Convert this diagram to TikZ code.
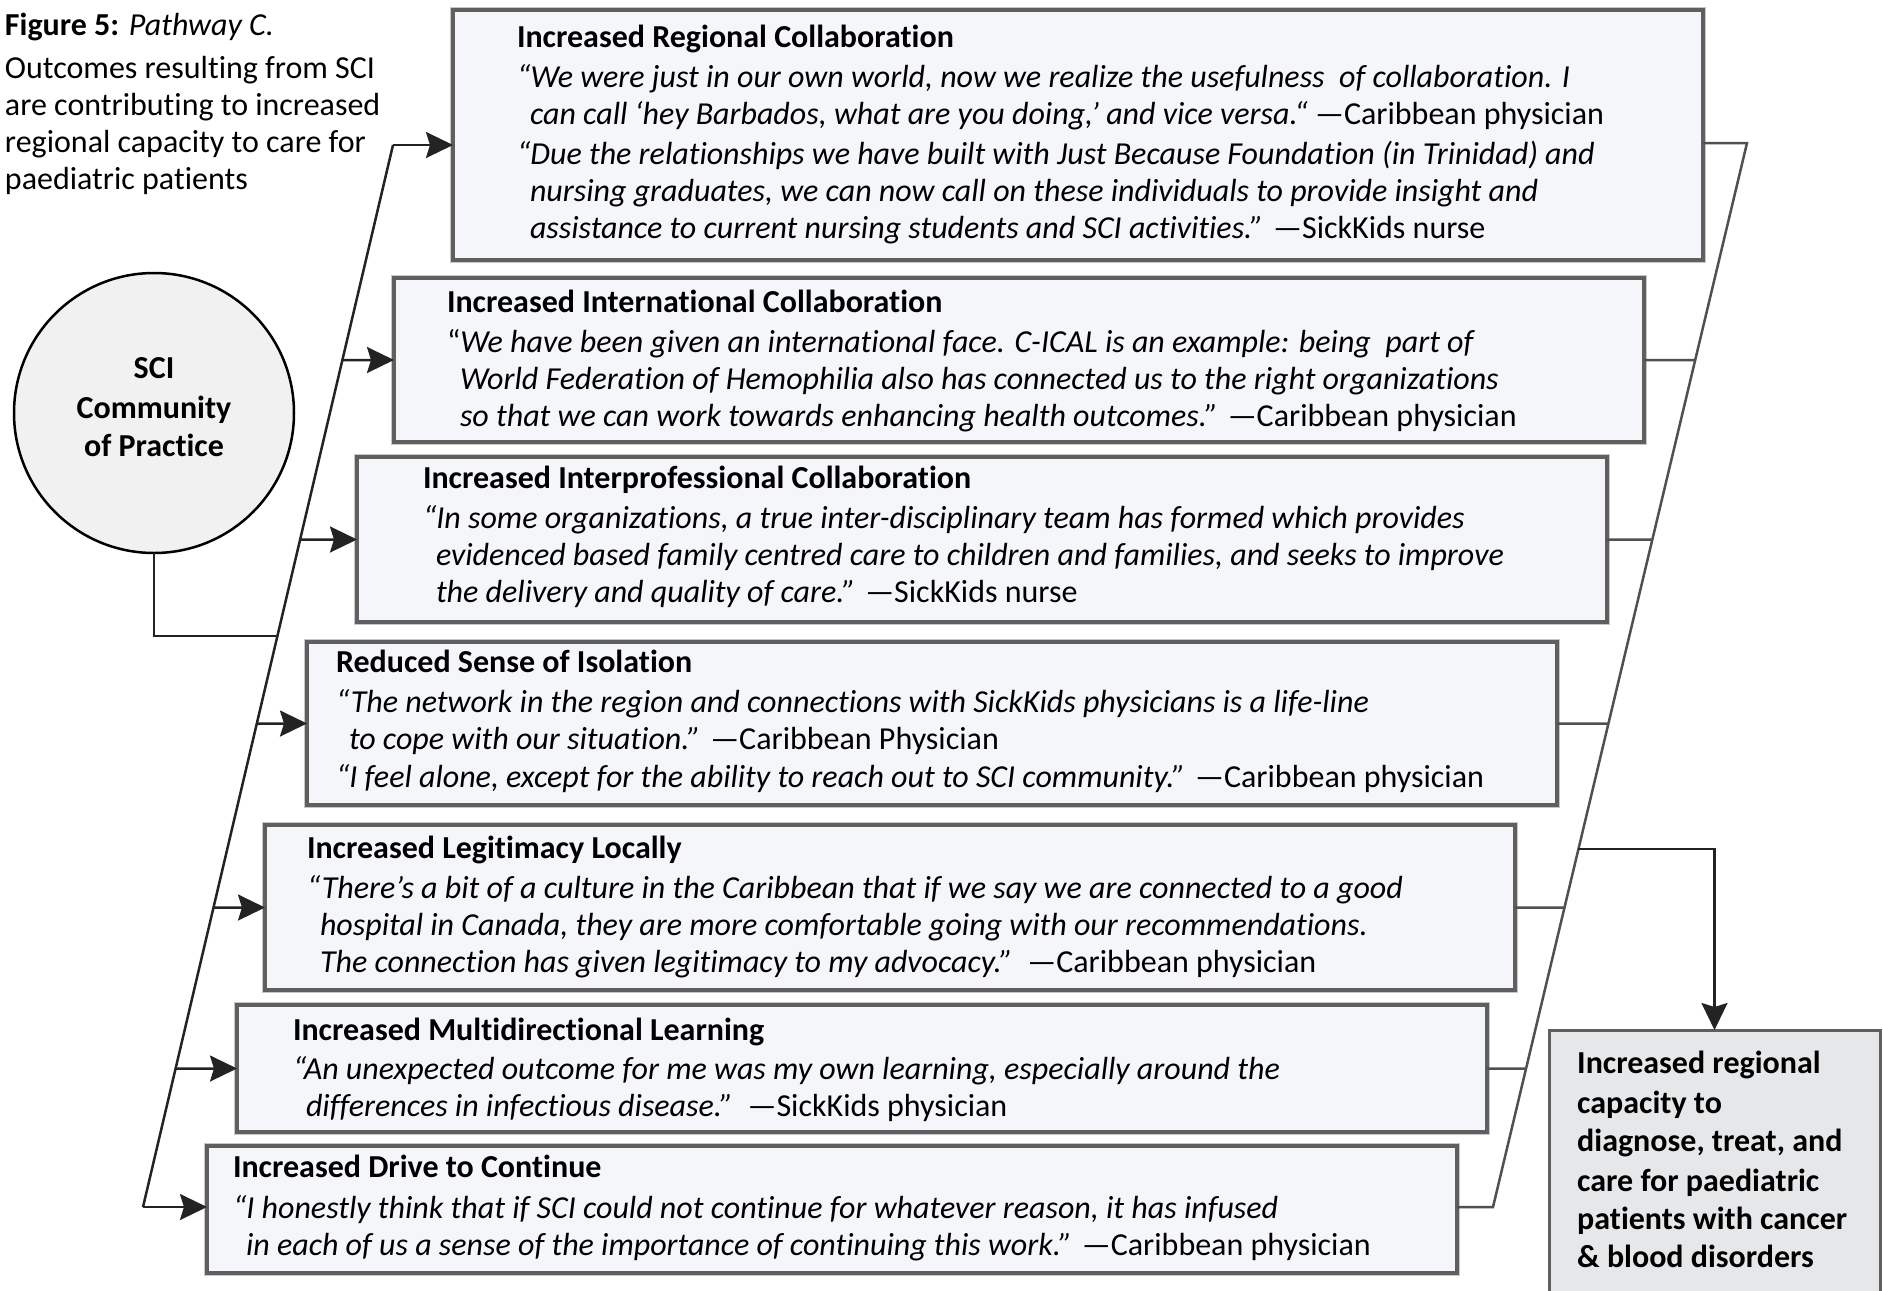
\documentclass[tikz,border=0pt]{standalone}
\usepackage{fontspec}
\setmainfont{Carlito}[Ligatures=NoCommon]
\usetikzlibrary{arrows.meta,calc}
\definecolor{boxfill}{RGB}{245,246,250}
\definecolor{boxline}{RGB}{95,95,95}
\definecolor{connc}{RGB}{35,35,35}
\definecolor{rconnc}{RGB}{80,80,80}
\definecolor{circfill}{RGB}{241,241,241}
\definecolor{capfill}{RGB}{230,231,233}
\newcommand\ind{\hspace*{13pt}}
\newcommand\strt{\rule{0pt}{30pt}}
\begin{document}
\begin{tikzpicture}[x=1pt,y=-1pt,
  outbox/.style={rectangle, draw=boxline, line width=3.5pt, fill=boxfill,
    preaction={draw=black!22, line width=6.5pt},
    minimum width=1250pt, anchor=north west, inner sep=0pt, outer sep=0pt},
  boxtext/.style={anchor=north west, align=left, inner sep=0pt, outer sep=0pt,
    font=\fontsize{32}{37}\selectfont},
  conn/.style={draw=connc, line width=2.5pt},
  rconn/.style={draw=rconnc, line width=2.5pt},
  arr/.style={conn, -{Stealth[length=27pt,width=26pt,inset=4pt,fill=connc]}},
]
\useasboundingbox[fill=white] (0,0) rectangle (1883,1291);

% caption
\node[boxtext] (cap) at (5,5) {\strt\textbf{Figure 5:} \textit{Pathway C.}\\[6pt]
Outcomes resulting from SCI\\
are contributing to increased\\
regional capacity to care for\\
paediatric patients};

% circle
\node[circle, draw=black, line width=2.5pt, fill=circfill, minimum size=280pt,
  inner sep=0pt, outer sep=0pt] (c) at (154,413) {};
\node[anchor=north, align=center, inner sep=0pt, font=\fontsize{32}{38}\selectfont\bfseries]
  (ct) at (154,348) {\strt SCI\\[2pt] Community\\ of Practice};

% outcome boxes
\node[outbox, minimum height=250pt] (b1) at (453,10) {};
\node[outbox, minimum height=164pt] (b2) at (394,278) {};
\node[outbox, minimum height=165pt] (b3) at (357,457) {};
\node[outbox, minimum height=163pt] (b4) at (307,642) {};
\node[outbox, minimum height=165pt] (b5) at (265,825) {};
\node[outbox, minimum height=127pt] (b6) at (237,1005) {};
\node[outbox, minimum height=127pt] (b7) at (207,1146) {};

% result box
\node[rectangle, draw=boxline, line width=3pt, fill=capfill, anchor=north west,
  minimum width=331pt, minimum height=290pt, inner sep=0pt, outer sep=0pt]
  (rb) at (1549,1030) {};

% texts
\node[boxtext] (t1) at (517,17) {\strt\textbf{Increased Regional Collaboration}\\[3pt]
\textit{“We were just in our own world, now we realize the usefulness\ \ of collaboration. I}\\
\ind\textit{can call ‘hey Barbados, what are you doing,’ and vice versa.“} —Caribbean physician\\[3pt]
\textit{“Due the relationships we have built with Just Because Foundation (in Trinidad) and}\\
\ind\textit{nursing graduates, we can now call on these individuals to provide insight and}\\
\ind\textit{assistance to current nursing students and SCI activities.”} —SickKids nurse};

\node[boxtext] (t2) at (447,282) {\strt\textbf{Increased International Collaboration}\\[3pt]
“\textit{We have been given an international face. C-ICAL is an example: being\ \ part of}\\
\ind\textit{World Federation of Hemophilia also has connected us to the right organizations}\\
\ind\textit{so that we can work towards enhancing health outcomes.”} —Caribbean physician};

\node[boxtext] (t3) at (423,458) {\strt\textbf{Increased Interprofessional Collaboration}\\[3pt]
\textit{“In some organizations, a true inter-disciplinary team has formed which provides}\\
\ind\textit{evidenced based family centred care to children and families, and seeks to improve}\\
\ind\textit{the delivery and quality of care.”} —SickKids nurse};

\node[boxtext] (t4) at (336,642) {\strt\textbf{Reduced Sense of Isolation}\\[3pt]
\textit{“The network in the region and connections with SickKids physicians is a life-line}\\
\ind\textit{to cope with our situation.”} —Caribbean Physician\\[1pt]
\textit{“I feel alone, except for the ability to reach out to SCI community.”} —Caribbean physician};

\node[boxtext] (t5) at (307,828) {\strt\textbf{Increased Legitimacy Locally}\\[3pt]
\textit{“There’s a bit of a culture in the Caribbean that if we say we are connected to a good}\\
\ind\textit{hospital in Canada, they are more comfortable going with our recommendations.}\\
\ind\textit{The connection has given legitimacy to my advocacy.”}\ \ —Caribbean physician};

\node[boxtext] (t6) at (293,1010) {\strt\textbf{Increased Multidirectional Learning}\\[2pt]
\textit{“An unexpected outcome for me was my own learning, especially around the}\\
\ind\textit{differences in infectious disease.”}\ \ —SickKids physician};

\node[boxtext] (t7) at (233,1147) {\strt\textbf{Increased Drive to Continue}\\[4pt]
\textit{“I honestly think that if SCI could not continue for whatever reason, it has infused}\\
\ind\textit{in each of us a sense of the importance of continuing this work.”} —Caribbean physician};

\node[anchor=north west, align=left, inner sep=0pt, font=\fontsize{32}{38}\selectfont\bfseries]
  (rt) at (1577,1043) {\strt Increased regional\\[2pt] capacity to\\ diagnose, treat, and\\[2pt]
  care for paediatric\\ patients with cancer\\ \& blood disorders};

% left connector
\coordinate (Ltop) at (393,145);
\coordinate (Lbot) at (143,1207);
\draw[conn] (Ltop) -- (Lbot);
\draw[arr] (Ltop) -- (Ltop -| b1.west);
\draw[arr] (intersection of Ltop--Lbot and b2.west--b2.east) -- (b2.west);
\draw[arr] (intersection of Ltop--Lbot and b3.west--b3.east) -- (b3.west);
\draw[arr] (intersection of Ltop--Lbot and b4.west--b4.east) -- (b4.west);
\draw[arr] (intersection of Ltop--Lbot and b5.west--b5.east) -- (b5.west);
\draw[arr] (intersection of Ltop--Lbot and b6.west--b6.east) -- (b6.west);
\draw[arr] (Lbot) -- (Lbot -| b7.west);
\coordinate (Cj) at ($(Ltop)!0.4623!(Lbot)$);
\draw[conn] (c.south) |- (Cj);

% right connector
\coordinate (Rtop) at (1747,143);
\coordinate (Rbot) at (1493,1207);
\draw[rconn] (Rtop -| b1.east) -- (Rtop) -- (Rbot) -- (Rbot -| b7.east);
\draw[rconn] (b2.east) -- (intersection of Rtop--Rbot and b2.west--b2.east);
\draw[rconn] (b3.east) -- (intersection of Rtop--Rbot and b3.west--b3.east);
\draw[rconn] (b4.east) -- (intersection of Rtop--Rbot and b4.west--b4.east);
\draw[rconn] (b5.east) -- (intersection of Rtop--Rbot and b5.west--b5.east);
\draw[rconn] (b6.east) -- (intersection of Rtop--Rbot and b6.west--b6.east);
\coordinate (Rj) at ($(Rtop)!0.6635!(Rbot)$);
\draw[arr] (Rj) -| (rb.north);
\end{tikzpicture}
\end{document}
